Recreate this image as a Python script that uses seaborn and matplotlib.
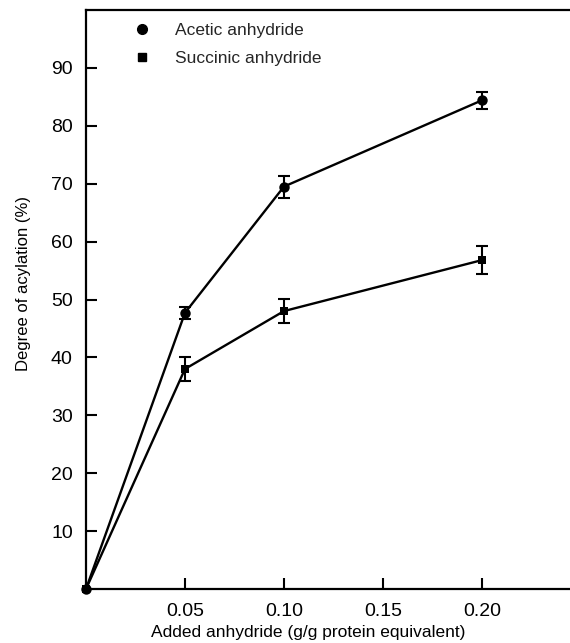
import matplotlib
matplotlib.use("Agg")
import matplotlib.pyplot as plt
import seaborn as sns
import pandas as pd
from matplotlib.lines import Line2D

x_vals = [0.0, 0.05, 0.10, 0.20]
acetic = [0.0, 47.7, 69.5, 84.4]
acetic_err = [0.0, 1.0, 1.9, 1.5]
succinic = [0.0, 38.0, 48.0, 56.8]
succinic_err = [0.0, 2.0, 2.1, 2.4]
series_names = ["Acetic anhydride", "Succinic anhydride"]
x_ticks = [0.05, 0.10, 0.15, 0.20]
x_ticklabels = ["0.05", "0.10", "0.15", "0.20"]
y_ticks = [10, 20, 30, 40, 50, 60, 70, 80, 90]

sns.set_theme(style="white")
plt.rcParams['font.family'] = ['Liberation Sans', 'DejaVu Sans']

df_ac = pd.DataFrame({"x": x_vals, "y": acetic, "err": acetic_err})
df_su = pd.DataFrame({"x": x_vals, "y": succinic, "err": succinic_err})

fig = plt.figure(figsize=(5.70, 6.43), dpi=100)
ax = fig.add_axes([86 / 570, 1 - 589 / 643, 1 - 86 / 570, (589 - 10) / 643])

# succinic first so the acetic circle sits on top at the origin
for d, mk, ms, z in [(df_su, "s", 6, 3), (df_ac, "o", 7.5, 4)]:
    sns.lineplot(data=d, x="x", y="y", marker=mk, color="black", linewidth=1.7,
                 markersize=ms, markeredgewidth=0, ax=ax, legend=False, zorder=z)
    ax.errorbar(d["x"][1:], d["y"][1:], yerr=d["err"][1:], fmt="none",
                ecolor="black", elinewidth=1.5, capsize=4, capthick=1.5, zorder=z)

handles = [Line2D([], [], marker="o", color="black", linestyle="none", markersize=7),
           Line2D([], [], marker="s", color="black", linestyle="none", markersize=5.5)]
ax.legend(handles, series_names, loc="upper left", bbox_to_anchor=(0.048, 1.004),
          frameon=False, fontsize=12.5, handletextpad=0.9, labelspacing=0.72,
          borderaxespad=0.5)

ax.set_xlim(0, 0.2445)
ax.set_ylim(0, 100)
ax.set_xticks(x_ticks)
ax.set_xticklabels(x_ticklabels)
ax.set_yticks(y_ticks)
ax.tick_params(direction="in", length=8, width=1.5, labelsize=14, colors="black",
               bottom=True, left=True, top=False, right=False)
ax.tick_params(axis="y", pad=9.5)
ax.tick_params(axis="x", pad=10)
for s in ["left", "bottom", "top"]:
    ax.spines[s].set_linewidth(1.6)
    ax.spines[s].set_color("black")
ax.spines["right"].set_visible(False)
ax.set_xlabel("Added anhydride (g/g protein equivalent)", fontsize=12.5, color="black")
ax.set_ylabel("Degree of acylation (%)", fontsize=12, color="black", va="center")
ax.xaxis.set_label_coords(0.459, -0.062)
ax.yaxis.set_label_coords(-0.13, 0.528)
for line in ax.lines:
    line.set_clip_on(False)

fig.savefig("out.png", dpi=100)
